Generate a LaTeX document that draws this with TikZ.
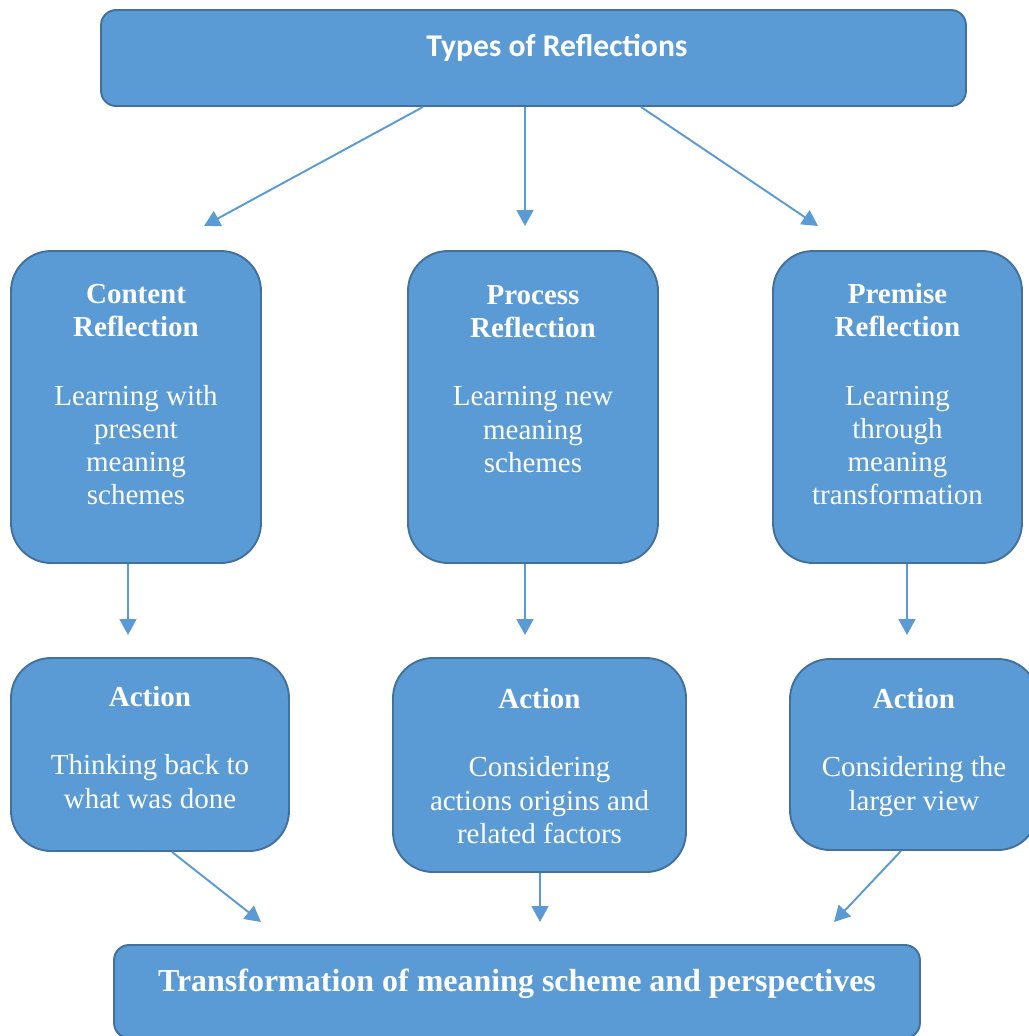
\documentclass[tikz,border=0pt]{standalone}
\usepackage{fontspec}
\setmainfont{Liberation Serif}
\newfontfamily\headfont{Carlito}
\usetikzlibrary{arrows.meta,positioning,calc}
\definecolor{reflfill}{RGB}{91,155,213}
\definecolor{reflline}{RGB}{65,113,156}

\begin{document}
\begin{tikzpicture}[
			x=0.02cm, y=-0.02cm,
			refbox/.style={draw=reflline, fill=reflfill, line width=1.1pt, rounded corners=0.8cm, inner sep=0pt},
			bandbox/.style={refbox, rounded corners=0.3cm},
			boxtext/.style={text=white, align=center, inner sep=0pt, font=\fontsize{16.5}{18.9}\selectfont},
			flow/.style={draw=reflfill, line width=1.1pt, -{Triangle[width=9.5pt,length=9pt]}}
			]
			\useasboundingbox (0,0) rectangle (1029,1036);
			
			% boxes
			\node[bandbox, minimum width=17.3cm, minimum height=1.92cm] (types) at (533.5,58) {};
			\node[refbox, minimum width=5cm, minimum height=6.24cm] (content) at (136,407) {};
			\node[refbox, minimum width=5cm, minimum height=6.24cm] (process) at (533,407) {};
			\node[refbox, minimum width=4.98cm, minimum height=6.24cm] (premise) at (897.5,407) {};
			\node[refbox, minimum width=5.56cm, minimum height=3.86cm] (actl) at (150,754.5) {};
			\node[refbox, minimum width=5.86cm, minimum height=4.28cm] (actm) at (539.5,765) {};
			\node[refbox, minimum width=4.96cm, minimum height=3.82cm] (actr) at (914,754.5) {};
			\node[bandbox, minimum width=16.12cm, minimum height=1.86cm] (transf) at (517,991.5) {};
			
			% texts
			\node[boxtext, font=\headfont\fontsize{18}{21}\selectfont\bfseries, below=0.5cm of types.north, xshift=0.47cm] (typestxt) {Types of Reflections};
			\node[boxtext, below=0.68cm of content.north] (contenttxt) {\textbf{Content}\\\textbf{Reflection}\\[20pt]Learning with\\present\\meaning\\schemes};
			\node[boxtext, below=0.70cm of process.north] (processtxt) {\textbf{Process}\\\textbf{Reflection}\\[20pt]Learning new\\meaning\\schemes};
			\node[boxtext, below=0.66cm of premise.north] (premisetxt) {\textbf{Premise}\\\textbf{Reflection}\\[20pt]Learning\\through\\meaning\\transformation};
			\node[boxtext, below=0.58cm of actl.north] (actltxt) {\textbf{Action}\\[20pt]Thinking back to\\what was done};
			\node[boxtext, below=0.62cm of actm.north] (actmtxt) {\textbf{Action}\\[20pt]Considering\\actions origins and\\related factors};
			\node[boxtext, below=0.6cm of actr.north] (actrtxt) {\textbf{Action}\\[20pt]Considering the\\larger view};
			\node[boxtext, font=\fontsize{18.2}{21}\selectfont\bfseries, below=0.5cm of transf.north] (transftxt) {Transformation of meaning scheme and perspectives};
			
			% arrow ends
			\coordinate (tipa) at (204,226);
			\coordinate (tipb) at (525,226);
			\coordinate (tipc) at (818,226);
			\coordinate (tipd) at (128,635);
			\coordinate (tipe) at (525,635);
			\coordinate (tipf) at (907,635);
			\coordinate (tipg) at (261,922);
			\coordinate (tiph) at (540,922);
			\coordinate (tipi) at (834,922);
			
			\draw[flow] ($(types.south)+(-110.5,0)$) -- (tipa);
			\draw[flow] ($(types.south)+(-8.5,0)$) -- (tipb);
			\draw[flow] ($(types.south)+(107.5,0)$) -- (tipc);
			\draw[flow] ($(content.south)+(-8,0)$) -- (tipd);
			\draw[flow] ($(process.south)+(-8,0)$) -- (tipe);
			\draw[flow] ($(premise.south)+(9.5,0)$) -- (tipf);
			\draw[flow] ($(actl.south)+(22,0)$) -- (tipg);
			\draw[flow] ($(actm.south)+(0.5,0)$) -- (tiph);
			\draw[flow] ($(actr.south)+(-13,0)$) -- (tipi);
		\end{tikzpicture}
\end{document}
